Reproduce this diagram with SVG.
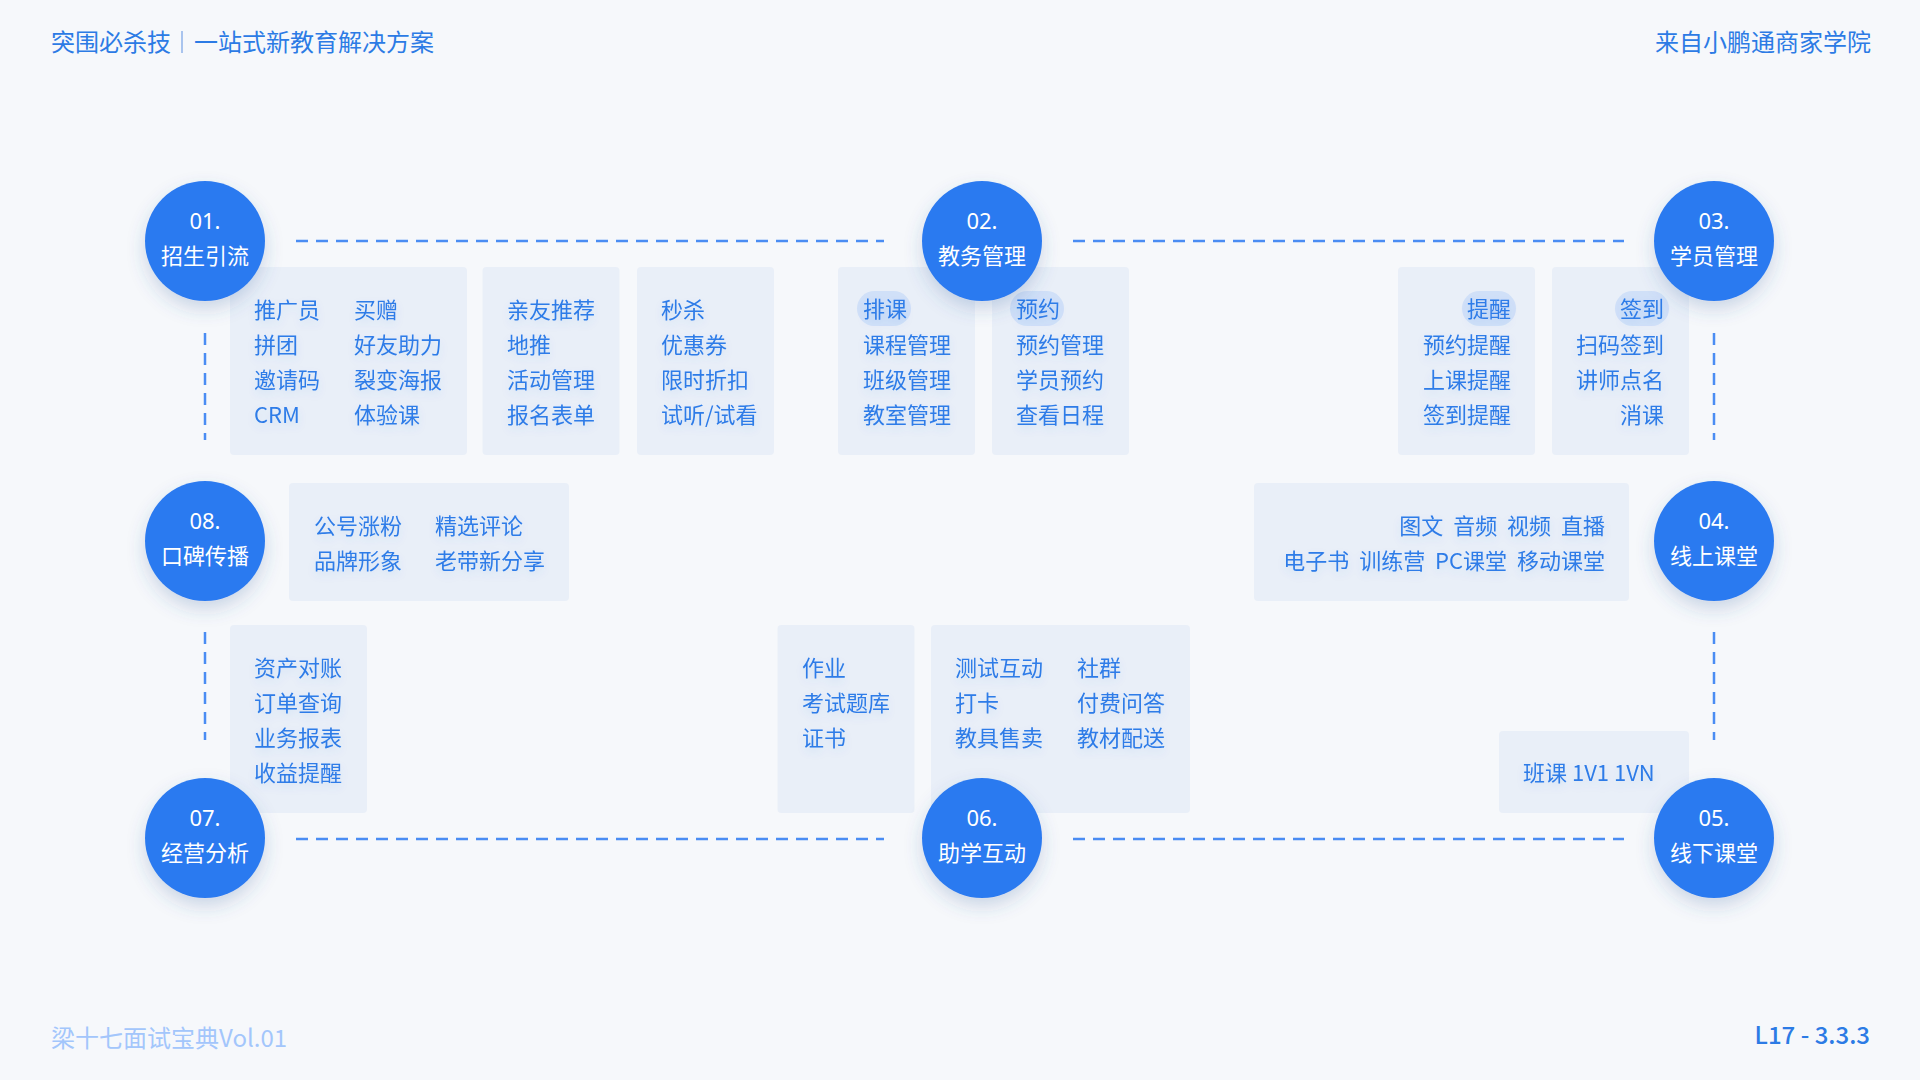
<svg xmlns="http://www.w3.org/2000/svg" width="1920" height="1080" viewBox="0 0 1920 1080">
<defs>
<style>
text{font-family:"Noto Sans CJK SC","Noto Sans",sans-serif;}
.bg{fill:#f6f8fb;}
.box{fill:#e9eff8;}
.pill{fill:#d0e0f8;}
.t{font-size:22px;fill:#2d7be8;}
.r{text-anchor:end;}
.cn{font-size:22px;fill:#ffffff;text-anchor:middle;font-family:"Noto Sans","Noto Sans CJK SC",sans-serif;}
.cl{font-size:22px;fill:#ffffff;text-anchor:middle;font-weight:400;}
.circ{fill:#2c7af0;}
.dash{stroke:#4a8cf3;stroke-width:2.5;fill:none;stroke-dasharray:12 8;}
.hd{font-size:24px;fill:#2c7be5;}
</style>
<filter id="sh" x="-40%" y="-40%" width="180%" height="190%">
<feDropShadow dx="0" dy="8" stdDeviation="9" flood-color="#3a5f9a" flood-opacity="0.22"/>
</filter>
<filter id="ts" x="-20%" y="-40%" width="140%" height="200%">
<feDropShadow dx="0" dy="4" stdDeviation="4" flood-color="#2b6fd6" flood-opacity="0.12"/>
</filter>
</defs>
<rect class="bg" x="0" y="0" width="1920" height="1080"/>

<g id="header">
<text class="hd" x="51" y="51">突围必杀技</text>
<line x1="182" y1="31" x2="182" y2="53" stroke="#a9c4ee" stroke-width="2"/>
<text class="hd" x="194" y="51">一站式新教育解决方案</text>
<text class="hd r" x="1871" y="51">来自小鹏通商家学院</text>
</g>

<g id="connectors">
<path class="dash" d="M296 241H884"/>
<path class="dash" d="M1073 241H1624"/>
<path class="dash" d="M296 839H884"/>
<path class="dash" d="M1073 839H1624"/>
<path class="dash" d="M205 333V440"/>
<path class="dash" d="M205 632V740"/>
<path class="dash" d="M1714 333V440"/>
<path class="dash" d="M1714 632V740"/>
</g>

<g id="box-a">
<rect class="box" x="230" y="267" width="237" height="188" rx="4"/>
<g class="t" filter="url(#ts)">
<text x="254" y="318">推广员</text><text x="354" y="318">买赠</text>
<text x="254" y="353">拼团</text><text x="354" y="353">好友助力</text>
<text x="254" y="388">邀请码</text><text x="354" y="388">裂变海报</text>
<text x="254" y="423">CRM</text><text x="354" y="423">体验课</text>
</g>
</g>
<g id="box-b">
<rect class="box" x="482.5" y="267" width="137" height="188" rx="4"/>
<g class="t" filter="url(#ts)">
<text x="507" y="318">亲友推荐</text>
<text x="507" y="353">地推</text>
<text x="507" y="388">活动管理</text>
<text x="507" y="423">报名表单</text>
</g>
</g>
<g id="box-c">
<rect class="box" x="637" y="267" width="137" height="188" rx="4"/>
<g class="t" filter="url(#ts)">
<text x="661" y="318">秒杀</text>
<text x="661" y="353">优惠券</text>
<text x="661" y="388">限时折扣</text>
<text x="661" y="423">试听/试看</text>
</g>
</g>
<g id="box-d">
<rect class="box" x="838" y="267" width="137" height="188" rx="4"/>
<rect class="pill" x="857" y="291" width="54" height="35" rx="17.5"/>
<g class="t" filter="url(#ts)">
<text x="863" y="317">排课</text>
<text x="863" y="353">课程管理</text>
<text x="863" y="388">班级管理</text>
<text x="863" y="423">教室管理</text>
</g>
</g>
<g id="box-e">
<rect class="box" x="992" y="267" width="137" height="188" rx="4"/>
<rect class="pill" x="1010" y="291" width="54" height="35" rx="17.5"/>
<g class="t" filter="url(#ts)">
<text x="1016" y="317">预约</text>
<text x="1016" y="353">预约管理</text>
<text x="1016" y="388">学员预约</text>
<text x="1016" y="423">查看日程</text>
</g>
</g>
<g id="box-f">
<rect class="box" x="1398" y="267" width="137" height="188" rx="4"/>
<rect class="pill" x="1462" y="291" width="54" height="35" rx="17.5"/>
<g class="t r" filter="url(#ts)">
<text x="1511" y="317">提醒</text>
<text x="1511" y="353">预约提醒</text>
<text x="1511" y="388">上课提醒</text>
<text x="1511" y="423">签到提醒</text>
</g>
</g>
<g id="box-g">
<rect class="box" x="1552" y="267" width="137" height="188" rx="4"/>
<rect class="pill" x="1615" y="291" width="54" height="35" rx="17.5"/>
<g class="t r" filter="url(#ts)">
<text x="1664" y="317">签到</text>
<text x="1664" y="353">扫码签到</text>
<text x="1664" y="388">讲师点名</text>
<text x="1664" y="423">消课</text>
</g>
</g>
<g id="box-h">
<rect class="box" x="289" y="483" width="280" height="118" rx="4"/>
<g class="t" filter="url(#ts)">
<text x="314" y="534">公号涨粉</text><text x="435" y="534">精选评论</text>
<text x="314" y="569">品牌形象</text><text x="435" y="569">老带新分享</text>
</g>
</g>
<g id="box-i">
<rect class="box" x="1254" y="483" width="375" height="118" rx="4"/>
<g class="t r" filter="url(#ts)" word-spacing="5">
<text x="1605" y="534">图文 音频 视频 直播</text>
<text x="1605" y="569">电子书 训练营 PC课堂 移动课堂</text>
</g>
</g>
<g id="box-j">
<rect class="box" x="230" y="625" width="137" height="188" rx="4"/>
<g class="t" filter="url(#ts)">
<text x="254" y="676">资产对账</text>
<text x="254" y="711">订单查询</text>
<text x="254" y="746">业务报表</text>
<text x="254" y="781">收益提醒</text>
</g>
</g>
<g id="box-k">
<rect class="box" x="777.5" y="625" width="137" height="188" rx="4"/>
<g class="t" filter="url(#ts)">
<text x="802" y="676">作业</text>
<text x="802" y="711">考试题库</text>
<text x="802" y="746">证书</text>
</g>
</g>
<g id="box-l">
<rect class="box" x="931" y="625" width="259" height="188" rx="4"/>
<g class="t" filter="url(#ts)">
<text x="955" y="676">测试互动</text><text x="1077" y="676">社群</text>
<text x="955" y="711">打卡</text><text x="1077" y="711">付费问答</text>
<text x="955" y="746">教具售卖</text><text x="1077" y="746">教材配送</text>
</g>
</g>
<g id="box-m">
<rect class="box" x="1499" y="731" width="190" height="82" rx="4"/>
<g class="t" filter="url(#ts)">
<text x="1523" y="781">班课 1V1 1VN</text>
</g>
</g>

<g id="node-01">
<circle class="circ" cx="205" cy="241" r="60" filter="url(#sh)"/>
<text class="cn" x="205" y="229">01.</text>
<text class="cl" x="205" y="264">招生引流</text>
</g>
<g id="node-02">
<circle class="circ" cx="982" cy="241" r="60" filter="url(#sh)"/>
<text class="cn" x="982" y="229">02.</text>
<text class="cl" x="982" y="264">教务管理</text>
</g>
<g id="node-03">
<circle class="circ" cx="1714" cy="241" r="60" filter="url(#sh)"/>
<text class="cn" x="1714" y="229">03.</text>
<text class="cl" x="1714" y="264">学员管理</text>
</g>
<g id="node-04">
<circle class="circ" cx="1714" cy="541" r="60" filter="url(#sh)"/>
<text class="cn" x="1714" y="529">04.</text>
<text class="cl" x="1714" y="564">线上课堂</text>
</g>
<g id="node-05">
<circle class="circ" cx="1714" cy="838" r="60" filter="url(#sh)"/>
<text class="cn" x="1714" y="826">05.</text>
<text class="cl" x="1714" y="861">线下课堂</text>
</g>
<g id="node-06">
<circle class="circ" cx="982" cy="838" r="60" filter="url(#sh)"/>
<text class="cn" x="982" y="826">06.</text>
<text class="cl" x="982" y="861">助学互动</text>
</g>
<g id="node-07">
<circle class="circ" cx="205" cy="838" r="60" filter="url(#sh)"/>
<text class="cn" x="205" y="826">07.</text>
<text class="cl" x="205" y="861">经营分析</text>
</g>
<g id="node-08">
<circle class="circ" cx="205" cy="541" r="60" filter="url(#sh)"/>
<text class="cn" x="205" y="529">08.</text>
<text class="cl" x="205" y="564">口碑传播</text>
</g>

<g id="footer">
<text x="51" y="1047" font-size="24" fill="#a3c6fb">梁十七面试宝典Vol.01</text>
<text x="1870" y="1044" font-size="24" fill="#2c7be5" text-anchor="end" font-family="Noto Sans, sans-serif" font-weight="500">L17 - 3.3.3</text>
</g>
</svg>
